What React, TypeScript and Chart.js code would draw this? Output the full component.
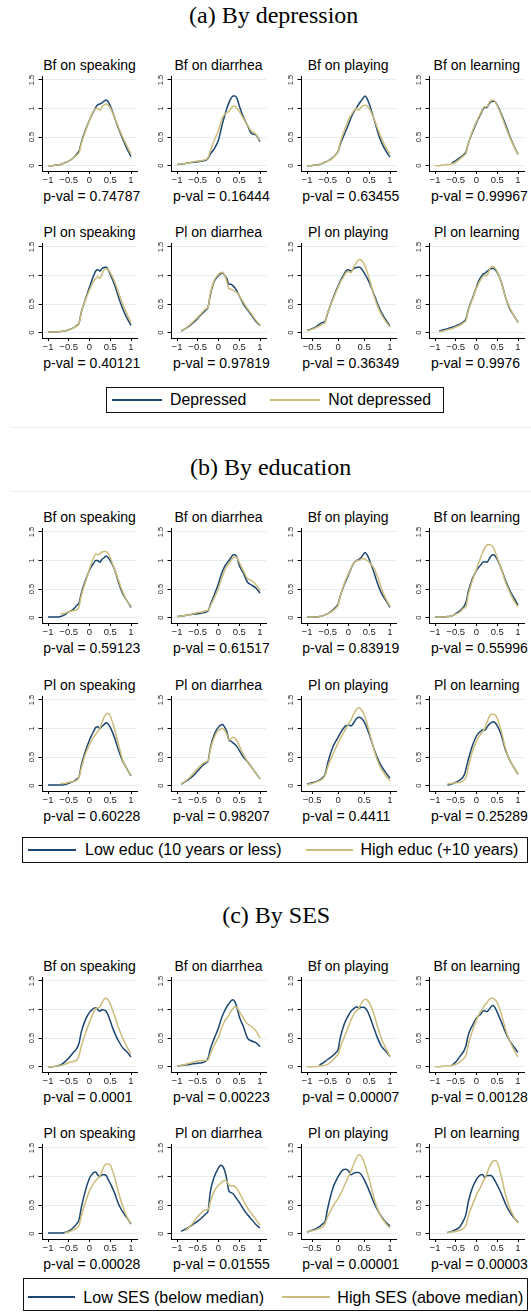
import React, { useEffect, useRef } from 'react';
import { Chart, registerables } from 'chart.js';

Chart.register(...registerables);
Chart.defaults.font.family = '"Liberation Sans", Arial, Helvetica, sans-serif';

// Shared x grid for every kernel-density curve
const gridX = [-1, -0.9, -0.8, -0.7, -0.6, -0.5, -0.4, -0.3, -0.25, -0.2, -0.1, 0, 0.05, 0.1, 0.15, 0.2, 0.25, 0.3, 0.35, 0.4, 0.45, 0.5, 0.6, 0.7, 0.8, 0.9, 1];

type Curve = (number | null)[];

// Order of curves in each list: Bf speaking, Bf diarrhea, Bf playing, Bf learning,
// Pl speaking, Pl diarrhea, Pl playing, Pl learning
const depressedCurves: Curve[] = [
  [0, 0, 0.01, 0.02, 0.05, 0.08, 0.13, 0.21, 0.26, 0.4, 0.62, 0.8, 0.88, 0.95, 1.02, 1.07, 1.08, 1.1, 1.13, 1.15, 1.12, 1.05, 0.85, 0.65, 0.47, 0.3, 0.16],
  [0.02, 0.03, 0.04, 0.05, 0.06, 0.07, 0.08, 0.1, 0.13, 0.2, 0.3, 0.45, 0.6, 0.75, 0.88, 1.0, 1.1, 1.18, 1.22, 1.22, 1.17, 1.05, 0.85, 0.7, 0.56, 0.54, 0.42],
  [0, 0, 0.01, 0.02, 0.05, 0.08, 0.13, 0.2, 0.25, 0.37, 0.55, 0.72, 0.82, 0.9, 0.97, 1.02, 1.08, 1.13, 1.18, 1.22, 1.17, 1.08, 0.85, 0.6, 0.4, 0.26, 0.15],
  [null, null, null, null, 0.05, 0.09, 0.14, 0.2, 0.25, 0.38, 0.58, 0.75, 0.83, 0.9, 0.98, 1.02, 1.02, 1.08, 1.12, 1.13, 1.12, 1.06, 0.9, 0.72, 0.52, 0.35, 0.2],
  [0.01, 0.01, 0.01, 0.02, 0.03, 0.05, 0.08, 0.13, 0.17, 0.35, 0.58, 0.8, 0.9, 1.0, 1.08, 1.1, 1.08, 1.12, 1.14, 1.15, 1.1, 1.02, 0.85, 0.62, 0.42, 0.26, 0.13],
  [null, 0.03, 0.07, 0.12, 0.18, 0.25, 0.33, 0.4, 0.45, 0.65, 0.9, 1.0, 1.03, 1.05, 1.0, 0.95, 0.85, 0.85, 0.82, 0.78, 0.72, 0.65, 0.5, 0.4, 0.3, 0.2, 0.12],
  [null, null, null, null, 0.04, 0.07, 0.12, 0.18, 0.2, 0.35, 0.6, 0.82, 0.92, 1.0, 1.08, 1.1, 1.08, 1.12, 1.14, 1.15, 1.12, 1.05, 0.88, 0.65, 0.42, 0.25, 0.12],
  [null, 0.03, 0.05, 0.07, 0.09, 0.12, 0.15, 0.2, 0.25, 0.4, 0.6, 0.8, 0.9, 0.97, 1.02, 1.04, 1.07, 1.1, 1.12, 1.13, 1.1, 1.05, 0.88, 0.62, 0.42, 0.3, 0.18],
];

const notDepressedCurves: Curve[] = [
  [0, 0, 0.01, 0.02, 0.05, 0.08, 0.13, 0.19, 0.23, 0.38, 0.6, 0.8, 0.89, 0.96, 1.0, 1.0, 0.97, 1.03, 1.06, 1.08, 1.06, 1.01, 0.85, 0.67, 0.5, 0.35, 0.2],
  [0.02, 0.03, 0.04, 0.05, 0.07, 0.08, 0.09, 0.11, 0.14, 0.25, 0.45, 0.62, 0.74, 0.85, 0.9, 0.93, 0.95, 1.0, 1.04, 1.04, 1.0, 0.95, 0.83, 0.7, 0.6, 0.55, 0.44],
  [0, 0, 0.01, 0.02, 0.05, 0.08, 0.12, 0.2, 0.25, 0.4, 0.62, 0.8, 0.87, 0.93, 0.98, 1.0, 0.97, 1.02, 1.05, 1.06, 1.04, 1.0, 0.85, 0.65, 0.47, 0.32, 0.2],
  [0, 0, 0.01, 0.02, 0.03, 0.06, 0.12, 0.18, 0.22, 0.38, 0.6, 0.77, 0.85, 0.92, 1.0, 1.03, 1.03, 1.1, 1.14, 1.15, 1.12, 1.05, 0.88, 0.68, 0.5, 0.34, 0.2],
  [0.01, 0.01, 0.01, 0.02, 0.03, 0.05, 0.08, 0.12, 0.16, 0.35, 0.57, 0.75, 0.83, 0.9, 0.95, 0.98, 0.95, 1.02, 1.1, 1.12, 1.1, 1.05, 0.9, 0.7, 0.5, 0.33, 0.18],
  [null, 0.03, 0.07, 0.13, 0.2, 0.27, 0.35, 0.42, 0.45, 0.68, 0.92, 1.02, 1.05, 1.06, 1.0, 0.9, 0.77, 0.76, 0.75, 0.72, 0.7, 0.65, 0.53, 0.42, 0.32, 0.22, 0.13],
  [null, null, null, null, 0.03, 0.06, 0.1, 0.15, 0.18, 0.35, 0.58, 0.8, 0.9, 0.97, 1.05, 1.07, 1.05, 1.15, 1.22, 1.28, 1.27, 1.2, 0.95, 0.62, 0.38, 0.22, 0.1],
  [null, 0.02, 0.03, 0.05, 0.07, 0.1, 0.13, 0.18, 0.22, 0.38, 0.58, 0.78, 0.86, 0.93, 0.98, 1.0, 1.0, 1.08, 1.15, 1.16, 1.13, 1.07, 0.88, 0.62, 0.44, 0.3, 0.18],
];

const lowEducCurves: Curve[] = [
  [0.01, 0.01, 0.01, 0.02, 0.05, 0.1, 0.14, 0.22, 0.26, 0.42, 0.65, 0.83, 0.9, 0.95, 1.0, 1.0, 0.97, 1.02, 1.05, 1.08, 1.05, 1.0, 0.85, 0.62, 0.42, 0.3, 0.18],
  [0.02, 0.03, 0.04, 0.05, 0.06, 0.07, 0.08, 0.1, 0.12, 0.22, 0.4, 0.6, 0.72, 0.82, 0.9, 0.95, 1.0, 1.05, 1.1, 1.1, 1.05, 0.92, 0.78, 0.62, 0.57, 0.52, 0.43],
  [0.01, 0.01, 0.01, 0.02, 0.04, 0.07, 0.12, 0.19, 0.24, 0.38, 0.58, 0.75, 0.84, 0.92, 0.98, 1.0, 1.02, 1.05, 1.1, 1.14, 1.1, 1.02, 0.82, 0.6, 0.42, 0.3, 0.18],
  [0.01, 0.01, 0.01, 0.02, 0.03, 0.07, 0.12, 0.2, 0.28, 0.45, 0.68, 0.83, 0.88, 0.92, 0.97, 0.98, 0.97, 1.02, 1.08, 1.1, 1.08, 1.02, 0.85, 0.65, 0.48, 0.35, 0.22],
  [0.01, 0.01, 0.01, 0.01, 0.02, 0.04, 0.07, 0.12, 0.16, 0.35, 0.6, 0.8, 0.88, 0.95, 1.02, 1.03, 1.0, 1.04, 1.07, 1.1, 1.08, 1.02, 0.85, 0.62, 0.43, 0.3, 0.17],
  [null, 0.03, 0.07, 0.12, 0.18, 0.26, 0.34, 0.4, 0.43, 0.65, 0.9, 1.03, 1.06, 1.07, 1.02, 0.95, 0.8, 0.78, 0.75, 0.72, 0.68, 0.62, 0.5, 0.42, 0.32, 0.22, 0.12],
  [null, null, null, null, 0.03, 0.05, 0.08, 0.14, 0.2, 0.4, 0.68, 0.85, 0.93, 1.0, 1.05, 1.06, 1.05, 1.1, 1.17, 1.2, 1.18, 1.12, 0.9, 0.62, 0.4, 0.25, 0.13],
  [null, null, null, 0.01, 0.03, 0.06, 0.1, 0.18, 0.3, 0.45, 0.7, 0.87, 0.92, 0.95, 0.98, 0.97, 1.02, 1.07, 1.1, 1.12, 1.1, 1.05, 0.88, 0.62, 0.45, 0.32, 0.2],
];

const highEducCurves: Curve[] = [
  [null, null, null, 0.06, 0.08, 0.1, 0.12, 0.14, 0.2, 0.38, 0.62, 0.85, 0.96, 1.05, 1.12, 1.1, 1.12, 1.15, 1.16, 1.16, 1.12, 1.05, 0.85, 0.65, 0.45, 0.3, 0.2],
  [0.02, 0.03, 0.04, 0.05, 0.07, 0.09, 0.1, 0.12, 0.13, 0.2, 0.35, 0.52, 0.63, 0.73, 0.83, 0.9, 0.95, 1.0, 1.05, 1.07, 1.04, 0.97, 0.82, 0.68, 0.65, 0.58, 0.47],
  [0.01, 0.01, 0.01, 0.02, 0.04, 0.07, 0.11, 0.17, 0.22, 0.37, 0.6, 0.77, 0.85, 0.92, 0.98, 1.01, 1.0, 1.02, 1.04, 1.02, 1.0, 0.97, 0.88, 0.72, 0.5, 0.33, 0.2],
  [0.01, 0.01, 0.01, 0.02, 0.03, 0.06, 0.1, 0.17, 0.2, 0.4, 0.65, 0.85, 0.96, 1.05, 1.15, 1.22, 1.27, 1.28, 1.27, 1.24, 1.15, 1.05, 0.85, 0.62, 0.45, 0.3, 0.19],
  [null, null, null, 0.04, 0.04, 0.06, 0.07, 0.1, 0.15, 0.3, 0.55, 0.72, 0.79, 0.85, 0.9, 0.95, 1.0, 1.1, 1.2, 1.25, 1.27, 1.22, 1.0, 0.72, 0.45, 0.3, 0.18],
  [null, 0.03, 0.08, 0.14, 0.22, 0.3, 0.37, 0.42, 0.43, 0.62, 0.85, 0.97, 0.99, 1.0, 0.97, 0.9, 0.8, 0.82, 0.85, 0.83, 0.78, 0.7, 0.55, 0.42, 0.32, 0.22, 0.12],
  [null, null, null, null, 0.02, 0.04, 0.07, 0.12, 0.18, 0.33, 0.55, 0.75, 0.84, 0.92, 1.0, 1.08, 1.15, 1.25, 1.33, 1.37, 1.33, 1.25, 0.95, 0.6, 0.35, 0.2, 0.08],
  [null, null, null, 0.03, 0.04, 0.05, 0.06, 0.1, 0.15, 0.32, 0.6, 0.78, 0.85, 0.9, 0.95, 1.0, 1.1, 1.2, 1.25, 1.25, 1.24, 1.18, 0.95, 0.65, 0.45, 0.32, 0.2],
];

const lowSesCurves: Curve[] = [
  [0, 0, 0.01, 0.03, 0.08, 0.15, 0.24, 0.33, 0.42, 0.6, 0.82, 0.95, 0.99, 1.02, 1.03, 1.0, 0.97, 1.0, 0.99, 0.97, 0.9, 0.8, 0.6, 0.45, 0.33, 0.26, 0.17],
  [0.01, 0.02, 0.03, 0.04, 0.05, 0.06, 0.07, 0.1, 0.15, 0.3, 0.5, 0.68, 0.8, 0.9, 0.98, 1.05, 1.1, 1.15, 1.17, 1.13, 1.02, 0.88, 0.7, 0.5, 0.45, 0.42, 0.35],
  [null, null, null, 0.03, 0.07, 0.13, 0.18, 0.25, 0.3, 0.5, 0.75, 0.9, 0.96, 1.0, 1.03, 1.05, 1.02, 1.04, 1.04, 1.03, 0.98, 0.9, 0.7, 0.5, 0.35, 0.27, 0.18],
  [null, null, null, null, 0.02, 0.08, 0.18, 0.28, 0.38, 0.55, 0.72, 0.85, 0.89, 0.92, 0.97, 0.98, 0.96, 1.0, 1.05, 1.07, 1.03, 0.95, 0.78, 0.6, 0.45, 0.35, 0.25],
  [0.01, 0.01, 0.01, 0.01, 0.02, 0.05, 0.1, 0.18, 0.25, 0.45, 0.75, 0.97, 1.03, 1.07, 1.08, 1.03, 1.0, 1.03, 1.03, 1.02, 0.95, 0.88, 0.72, 0.52, 0.38, 0.28, 0.17],
  [null, 0.04, 0.08, 0.12, 0.17, 0.22, 0.28, 0.35, 0.4, 0.72, 1.0, 1.15, 1.2, 1.18, 1.1, 0.95, 0.75, 0.72, 0.7, 0.65, 0.6, 0.55, 0.43, 0.33, 0.25, 0.16, 0.1],
  [null, null, null, null, 0.03, 0.06, 0.1, 0.17, 0.22, 0.45, 0.8, 1.0, 1.07, 1.12, 1.13, 1.1, 1.03, 1.06, 1.07, 1.07, 1.03, 0.95, 0.75, 0.52, 0.35, 0.22, 0.13],
  [null, null, null, 0.02, 0.04, 0.07, 0.12, 0.25, 0.35, 0.55, 0.8, 0.95, 1.0, 1.03, 1.03, 0.98, 1.02, 1.02, 1.02, 0.98, 0.92, 0.85, 0.7, 0.52, 0.38, 0.28, 0.2],
];

const highSesCurves: Curve[] = [
  [0, 0, 0.01, 0.02, 0.04, 0.07, 0.09, 0.12, 0.2, 0.35, 0.58, 0.78, 0.87, 0.95, 1.02, 1.03, 1.05, 1.12, 1.18, 1.2, 1.17, 1.1, 0.9, 0.68, 0.5, 0.35, 0.22],
  [0.01, 0.02, 0.04, 0.06, 0.08, 0.1, 0.11, 0.11, 0.12, 0.22, 0.38, 0.52, 0.62, 0.72, 0.8, 0.85, 0.9, 0.97, 1.02, 1.05, 1.03, 0.97, 0.85, 0.75, 0.7, 0.63, 0.5],
  [0, 0, 0, 0.01, 0.02, 0.04, 0.1, 0.18, 0.22, 0.33, 0.52, 0.7, 0.8, 0.88, 0.95, 0.98, 1.02, 1.1, 1.15, 1.18, 1.17, 1.12, 0.95, 0.7, 0.48, 0.32, 0.18],
  [0, 0, 0.01, 0.01, 0.02, 0.04, 0.08, 0.15, 0.2, 0.38, 0.62, 0.82, 0.9, 0.97, 1.02, 1.08, 1.12, 1.17, 1.2, 1.2, 1.17, 1.12, 0.92, 0.65, 0.45, 0.3, 0.17],
  [null, null, null, null, 0.02, 0.03, 0.06, 0.1, 0.15, 0.3, 0.55, 0.75, 0.82, 0.88, 0.93, 0.97, 1.0, 1.1, 1.18, 1.22, 1.22, 1.2, 1.0, 0.72, 0.48, 0.3, 0.18],
  [null, null, 0.05, 0.12, 0.2, 0.3, 0.38, 0.42, 0.42, 0.55, 0.75, 0.85, 0.88, 0.92, 0.93, 0.92, 0.85, 0.84, 0.84, 0.82, 0.78, 0.72, 0.58, 0.45, 0.35, 0.25, 0.15],
  [null, null, null, null, 0.03, 0.05, 0.08, 0.12, 0.18, 0.3, 0.48, 0.62, 0.7, 0.8, 0.9, 1.0, 1.1, 1.22, 1.32, 1.38, 1.35, 1.25, 0.95, 0.6, 0.35, 0.2, 0.1],
  [null, null, null, 0.02, 0.03, 0.04, 0.06, 0.1, 0.15, 0.3, 0.5, 0.68, 0.75, 0.82, 0.9, 0.97, 1.05, 1.15, 1.22, 1.27, 1.28, 1.25, 1.0, 0.68, 0.45, 0.3, 0.18],
];

const plotTitles = ['Bf on speaking', 'Bf on diarrhea', 'Bf on playing', 'Bf on learning', 'Pl on speaking', 'Pl on diarrhea', 'Pl on playing', 'Pl on learning'];

const pValsDepression = ['0.74787', '0.16444', '0.63455', '0.99967', '0.40121', '0.97819', '0.36349', '0.9976'];
const pValsEducation = ['0.59123', '0.61517', '0.83919', '0.55996', '0.60228', '0.98207', '0.4411', '0.25289'];
const pValsSes = ['0.0001', '0.00223', '0.00007', '0.00128', '0.00028', '0.01555', '0.00001', '0.00003'];

const panelTitles = ['(a) By depression', '(b) By education', '(c) By SES'];
const legendDepression = ['Depressed', 'Not depressed'];
const legendEducation = ['Low educ (10 years or less)', 'High educ (+10 years)'];
const legendSes = ['Low SES (below median)', 'High SES (above median)'];

const xTicksFull = [-1, -0.5, 0, 0.5, 1];
const xTicksPlaying = [-0.5, 0, 0.5, 1];
const plotXTicks = [xTicksFull, xTicksFull, xTicksFull, xTicksFull, xTicksFull, xTicksFull, xTicksPlaying, xTicksFull];
const yTicks = [0, 0.5, 1, 1.5];

// ---- styling & geometry ----
const BLUE = '#1b466f';
const SAND = '#ccbc7b';
const GRID = '#e2edf0';
const TICK_TEXT = '#222';

const PLOT_W = 95;
const PLOT_H = 95;
const Y_AXIS_W = 22;
const X_AXIS_H = 14;
const PAD_TOP = 6;
const PAD_RIGHT = 6;
const INNER_MARGIN = 6; // blank space between data extent and plot edge
const Y_MIN = -0.093;
const Y_MAX = 1.57;

const COL_PLOT_LEFT = [42, 171, 300.7, 429.3];
const COL_PVAL_LEFT = [43.3, 173, 302.3, 431];
const ROW_TITLE_Y = 65;
const ROW_PLOT_TOP = 76;
const ROW_PVAL_Y = 196;

interface LegendItemPos { lineX: number; lineW: number; textX: number }
interface PanelLayout {
  top: number; rowGap: number; titleX: number; titleY: number;
  legend: { left: number; top: number; width: number; height: number; centerY: number; font: number; items: LegendItemPos[] };
}

const panelLayouts: PanelLayout[] = [
  {
    top: 0, rowGap: 166.5, titleX: 273.7, titleY: 15,
    legend: { left: 106, top: 386.7, width: 338, height: 26.7, centerY: 400, font: 15.8,
      items: [{ lineX: 111.7, lineW: 50, textX: 170 }, { lineX: 270, lineW: 50, textX: 328.3 }] },
  },
  {
    top: 451.5, rowGap: 168, titleX: 270.6, titleY: 467.4,
    legend: { left: 22, top: 836.7, width: 506, height: 26.7, centerY: 850, font: 16,
      items: [{ lineX: 28.3, lineW: 47.7, textX: 85 }, { lineX: 306, lineW: 47, textX: 360.5 }] },
  },
  {
    top: 901, rowGap: 166.5, titleX: 276.2, titleY: 915,
    legend: { left: 22.7, top: 1278.3, width: 505.3, height: 33, centerY: 1296.7, font: 16.1,
      items: [{ lineX: 28.3, lineW: 46.7, textX: 83.3 }, { lineX: 281.7, lineW: 48.3, textX: 337.3 }] },
  },
];

const panels = [
  { title: panelTitles[0], low: depressedCurves, high: notDepressedCurves, pvals: pValsDepression, legend: legendDepression },
  { title: panelTitles[1], low: lowEducCurves, high: highEducCurves, pvals: pValsEducation, legend: legendEducation },
  { title: panelTitles[2], low: lowSesCurves, high: highSesCurves, pvals: pValsSes, legend: legendSes },
];

function toPoints(curve: Curve) {
  const pts: { x: number; y: number }[] = [];
  curve.forEach((v, i) => {
    if (v !== null) pts.push({ x: gridX[i], y: v });
  });
  return pts;
}

function fmtX(v: number) {
  return v < 0 ? '\u2212' + String(Math.abs(v)) : String(v);
}

interface DensityProps { left: number; top: number; low: Curve; high: Curve; xTicks: number[] }

function DensityPlot({ left, top, low, high, xTicks }: DensityProps) {
  const ref = useRef<HTMLCanvasElement | null>(null);
  const W = Y_AXIS_W + PLOT_W + PAD_RIGHT;
  const H = PAD_TOP + PLOT_H + X_AXIS_H;

  useEffect(() => {
    if (!ref.current) return;
    const lowPts = toPoints(low);
    const highPts = toPoints(high);
    const xs = lowPts.concat(highPts).map((p) => p.x);
    const lo = Math.min(xTicks[0], ...xs);
    const hi = Math.max(xTicks[xTicks.length - 1], ...xs);
    const m = ((hi - lo) * INNER_MARGIN) / (PLOT_W - 2 * INNER_MARGIN);

    const chart = new Chart(ref.current, {
      type: 'line',
      data: {
        datasets: [
          { data: highPts, borderColor: SAND, borderWidth: 1.5, pointRadius: 0, fill: false, cubicInterpolationMode: 'monotone', order: 0 },
          { data: lowPts, borderColor: BLUE, borderWidth: 1.5, pointRadius: 0, fill: false, cubicInterpolationMode: 'monotone', order: 1 },
        ],
      },
      options: {
        animation: false,
        responsive: false,
        events: [],
        layout: { padding: { left: 0, top: PAD_TOP, right: PAD_RIGHT, bottom: 0 } },
        plugins: { legend: { display: false }, tooltip: { enabled: false }, title: { display: false } },
        scales: {
          x: {
            type: 'linear',
            min: lo - m,
            max: hi + m,
            afterBuildTicks: (s: any) => { s.ticks = xTicks.map((v) => ({ value: v })); },
            afterFit: (s: any) => { s.height = X_AXIS_H; },
            grid: { drawOnChartArea: false, drawTicks: true, tickLength: 3, tickColor: '#000', tickWidth: 1 },
            border: { display: true, color: '#000', width: 1 },
            ticks: {
              autoSkip: false, maxRotation: 0, minRotation: 0, padding: 1,
              color: TICK_TEXT, font: { size: 9.5 },
              callback: (v: any) => fmtX(Number(v)),
            },
          },
          y: {
            type: 'linear',
            min: Y_MIN,
            max: Y_MAX,
            afterBuildTicks: (s: any) => { s.ticks = yTicks.map((v) => ({ value: v })); },
            afterFit: (s: any) => { s.width = Y_AXIS_W; },
            grid: { color: GRID, lineWidth: 1, drawTicks: true, tickLength: 3.5, tickColor: '#000', tickWidth: 1 },
            border: { display: true, color: '#000', width: 1 },
            ticks: {
              autoSkip: false, minRotation: 90, maxRotation: 90, crossAlign: 'center', padding: 1.5,
              color: TICK_TEXT, font: { size: 7.5 },
              callback: (v: any) => String(v),
            },
          },
        },
      } as any,
    });
    return () => chart.destroy();
  }, [low, high, xTicks]);

  return (
    <canvas
      ref={ref}
      width={W}
      height={H}
      style={{ position: 'absolute', left, top, width: W, height: H }}
    />
  );
}

const textBase: React.CSSProperties = {
  position: 'absolute',
  whiteSpace: 'nowrap',
  lineHeight: 1,
  color: '#000',
};

function Panel({ index }: { index: number }) {
  const p = panels[index];
  const L = panelLayouts[index];
  const items: React.ReactNode[] = [];

  for (let k = 0; k < 8; k++) {
    const row = Math.floor(k / 4);
    const col = k % 4;
    const rowTop = L.top + row * L.rowGap;
    const plotLeft = COL_PLOT_LEFT[col];
    items.push(
      <div key={'t' + k} style={{ ...textBase, left: plotLeft + PLOT_W / 2, top: rowTop + ROW_TITLE_Y, transform: 'translate(-50%, -50%)', fontSize: 14 }}>
        {plotTitles[k]}
      </div>
    );
    items.push(
      <DensityPlot
        key={'c' + k}
        left={plotLeft - Y_AXIS_W}
        top={rowTop + ROW_PLOT_TOP - PAD_TOP}
        low={p.low[k]}
        high={p.high[k]}
        xTicks={plotXTicks[k]}
      />
    );
    items.push(
      <div key={'p' + k} style={{ ...textBase, left: COL_PVAL_LEFT[col], top: rowTop + ROW_PVAL_Y, transform: 'translateY(-50%)', fontSize: 14 }}>
        {'p-val = ' + p.pvals[k]}
      </div>
    );
  }

  const lg = L.legend;
  const colors = [BLUE, SAND];

  return (
    <>
      <div style={{ ...textBase, left: L.titleX, top: L.titleY, transform: 'translate(-50%, -50%)', fontSize: 24, fontFamily: '"Liberation Serif", "Times New Roman", Times, serif' }}>
        {p.title}
      </div>
      {items}
      <div style={{ position: 'absolute', left: lg.left, top: lg.top, width: lg.width, height: lg.height, boxSizing: 'border-box', border: '1px solid #111' }} />
      {lg.items.map((it, i) => (
        <React.Fragment key={'lg' + i}>
          <div style={{ position: 'absolute', left: it.lineX, top: lg.centerY - 1, width: it.lineW, height: 2, background: colors[i] }} />
          <div style={{ ...textBase, left: it.textX, top: lg.centerY, transform: 'translateY(-50%)', fontSize: lg.font }}>
            {p.legend[i]}
          </div>
        </React.Fragment>
      ))}
    </>
  );
}

export default function App() {
  return (
    <div
      style={{
        position: 'absolute', left: 0, top: 0, width: 531, height: 1313, overflow: 'hidden',
        background: '#fff', fontFamily: '"Liberation Sans", Arial, Helvetica, sans-serif',
      }}
    >
      <div style={{ position: 'absolute', left: 10, top: 427, width: 521, height: 1, background: '#efefef' }} />
      <div style={{ position: 'absolute', left: 10, top: 490.5, width: 521, height: 1, background: '#efefef' }} />
      <Panel index={0} />
      <Panel index={1} />
      <Panel index={2} />
    </div>
  );
}
